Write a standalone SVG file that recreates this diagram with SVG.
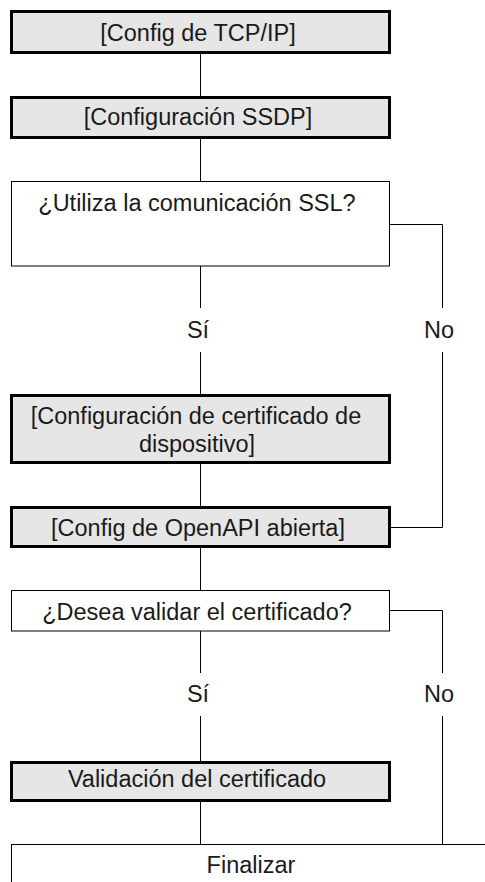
<svg xmlns="http://www.w3.org/2000/svg" width="485" height="882" viewBox="0 0 485 882">
<style>
.step{fill:#e6e6e6;stroke:#000;stroke-width:3}
.dec{fill:#fff;stroke:#000;stroke-width:1}
.t{font-family:"Liberation Sans",Arial,Helvetica,sans-serif;font-size:23.5px;fill:#1a1a1a;text-anchor:middle}
.c{fill:none;stroke:#000;stroke-width:1}
</style>
<rect width="485" height="882" fill="#fff"/>
<g id="connectors">
<path class="c" d="M200.5,54V96"/>
<path class="c" d="M200.5,139V181.5"/>
<path class="c" d="M200.5,266V308"/>
<path class="c" d="M389.5,224.5H442.5V308"/>
<path class="c" d="M200.5,352V394"/>
<path class="c" d="M442.5,352V527.5H390"/>
<path class="c" d="M200.5,464V506"/>
<path class="c" d="M200.5,548V590.5"/>
<path class="c" d="M200.5,631V673"/>
<path class="c" d="M389.5,610.5H442.5V673"/>
<path class="c" d="M200.5,716V761"/>
<path class="c" d="M442.5,716V844.5"/>
<path class="c" d="M200.5,802V844.5"/>
</g>
<g id="n1"><rect class="step" x="11.5" y="11.5" width="378" height="41"/><text class="t" x="198" y="41">[Config de TCP/IP]</text></g>
<g id="n2"><rect class="step" x="11.5" y="97.5" width="378" height="40"/><text class="t" x="198" y="125">[Configuración SSDP]</text></g>
<g id="n3"><rect class="dec" x="11.5" y="181.5" width="378" height="84.5"/><text class="t" x="197" y="211">¿Utiliza la comunicación SSL?</text></g>
<g id="l1"><text class="t" x="198" y="338">Sí</text><text class="t" x="439" y="338">No</text></g>
<g id="n4"><rect class="step" x="11.5" y="395.5" width="378" height="67"/><text class="t" x="196" y="424">[Configuración de certificado de</text><text class="t" x="197" y="452">dispositivo]</text></g>
<g id="n5"><rect class="step" x="11.5" y="507.5" width="378" height="39"/><text class="t" x="198" y="536">[Config de OpenAPI abierta]</text></g>
<g id="n6"><rect class="dec" x="11.5" y="590.5" width="378" height="40.5"/><text class="t" x="197" y="620">¿Desea validar el certificado?</text></g>
<g id="l2"><text class="t" x="198" y="702">Sí</text><text class="t" x="439" y="702">No</text></g>
<g id="n7"><rect class="step" x="11.5" y="762.5" width="378" height="38"/><text class="t" x="197" y="787">Validación del certificado</text></g>
<g id="n8"><rect class="dec" x="11.5" y="844.5" width="480" height="60"/><text class="t" x="251" y="873">Finalizar</text></g>
</svg>
